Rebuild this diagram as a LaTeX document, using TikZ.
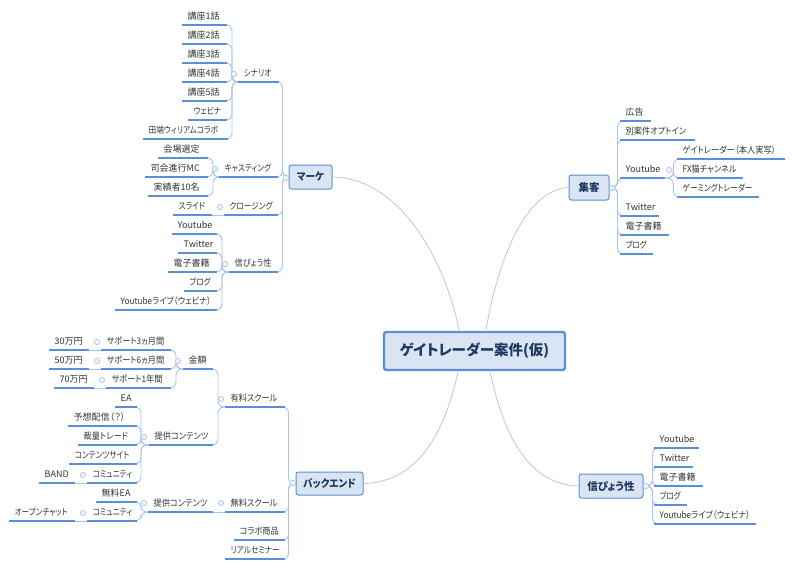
\documentclass[tikz,border=0pt]{standalone}
\usepackage{fontspec}
\setmainfont[RawFeature=+palt]{Noto Sans CJK JP}
\newcommand{\ka}[1]{{\addfontfeature{FakeStretch=0.85}#1}}
\newcommand{\mx}[1]{{\addfontfeature{FakeStretch=0.91}#1}}
\definecolor{linecol}{HTML}{5B8FD6}
\definecolor{conncol}{HTML}{A9C4EC}
\definecolor{boxfill}{HTML}{DAE5F3}
\definecolor{txtcol}{HTML}{333333}
\definecolor{boxtxt}{HTML}{1F3864}
\tikzset{
  leaf/.style={inner sep=0pt,anchor=south west,align=left,text height=9pt,text depth=5pt,font=\fontsize{9pt}{10pt}\selectfont,text=txtcol},
  under/.style={draw=linecol,line width=1.3pt},
  conn/.style={draw=conncol,line width=0.9pt,rounded corners=6pt},
  rootlink/.style={draw=conncol,line width=0.7pt},
  topicbox/.style={draw=linecol,line width=1pt,fill=boxfill,rounded corners=2.5pt,inner sep=0pt,font=\fontsize{10.5pt}{12pt}\bfseries\selectfont,text=boxtxt},
  rootbox/.style={topicbox,line width=2.4pt,font=\fontsize{14.5pt}{16pt}\bfseries\selectfont},
  toggle/.style={circle,draw=conncol,fill=boxfill!50,line width=0.6pt,minimum size=5.5pt,inner sep=0pt},
}
% name x1 x2 y text
\newcommand{\lf}[5]{\node[leaf,text width={(#3-#2)*1pt}] (#1) at (#2,#4) {\hspace*{5.5pt}\mbox{#5}};}
% parent child dx : branch to the left
\newcommand{\bl}[3]{\draw[conn] (#1.south west) -- ++(-#3,0) |- (#2.south east);}
\newcommand{\br}[3]{\draw[conn] (#1.south east) -- ++(#3,0) |- (#2.south west);}
\newcommand{\st}[2]{\draw[conn] (#1.south west) -- (#2.south east);}
\newcommand{\bx}[6]{\node[topicbox,minimum width={(#4-#2)*1pt},minimum height={(#5-#3)*1pt}] (#1) at ({(#2+#4)/2},{(#3+#5)/2}) {#6};}
% box-trunks
\newcommand{\bbl}[3]{\draw[conn] (#1.west) -- ++(-#3,0) |- (#2.south east);}
\newcommand{\bbr}[3]{\draw[conn] (#1.east) -- ++(#3,0) |- (#2.south west);}
\newcommand{\tg}[3]{\node[toggle] (#1) at (#2,#3) {};}
\newcommand{\ul}[1]{\foreach \c in {#1}{\draw[under] (\c.south west) -- (\c.south east);}}
\begin{document}
\begin{tikzpicture}[x=1pt,y=-1pt]
\useasboundingbox[fill=white] (0,0) rectangle (794,568);
% root and main topics
\node[rootbox,minimum width=181pt,minimum height=38pt] (root) at (474.5,351) {ゲイトレーダー案件(仮)};
\bx{marke}{289}{165}{332}{189}{\mx{マーケ}}
\bx{shukyaku}{569}{175}{609}{200}{集客}
\bx{backend}{296}{472}{363}{495}{\mx{バックエンド}}
\bx{shinpyo}{579}{474}{643}{498}{信ぴょう性}
\coordinate (rootNW) at (459,330);
\coordinate (rootNE) at (486,330);
\coordinate (rootSW) at (458,372);
\coordinate (rootSE) at (490,372);
\draw[rootlink] (marke.east) .. controls (400,178) and (445,260) .. (rootNW);
\draw[rootlink] (shukyaku.west) .. controls (525,190) and (498,260) .. (rootNE);
\draw[rootlink] (backend.east) .. controls (420,482) and (445,430) .. (rootSW);
\draw[rootlink] (shinpyo.west) .. controls (525,484) and (503,430) .. (rootSE);
% marke branch
\lf{sc}{238}{279}{82}{\ka{シナリオ}}
\lf{ko1}{182}{227}{25}{講座1話}
\lf{ko2}{182}{227}{44}{講座2話}
\lf{ko3}{182}{227}{63}{講座3話}
\lf{ko4}{182}{227}{82}{講座4話}
\lf{ko5}{182}{227}{101}{講座5話}
\lf{web}{188}{227}{120}{\ka{ウェビナ}}
\lf{tab}{143}{228}{139}{\ka{田端ウィリアムコラボ}}
\foreach \c in {ko1,ko2,ko3,ko4,ko5,web,tab}{\bl{sc}{\c}{6}}
\lf{cast}{219}{278}{177}{\ka{キャスティング}}
\lf{kaijo}{158}{208}{158}{会場選定}
\lf{shikai}{145}{208}{177}{司会進行MC}
\lf{jisseki}{148}{208}{196}{実績者10名}
\foreach \c in {kaijo,shikai,jisseki}{\bl{cast}{\c}{6}}
\lf{clo}{224}{278}{215}{\ka{クロージング}}
\lf{slide}{173}{212}{215}{\ka{スライド}}
\st{clo}{slide}
\lf{shin}{229}{278}{272}{\mx{信ぴょう性}}
\lf{myt}{172}{217}{234}{Youtube}
\lf{mtw}{178}{217}{253}{Twitter}
\lf{mde}{168}{217}{272}{電子書籍}
\lf{mbl}{184}{217}{291}{\ka{ブログ}}
\lf{mli}{115}{217}{310}{\mx{Youtubeライブ（ウェビナ）}}
\foreach \c in {myt,mtw,mde,mbl,mli}{\bl{shin}{\c}{7}}
\foreach \c in {sc,cast,clo,shin}{\bbl{marke}{\c}{6}}
% backend branch
\lf{yuryo}{225}{285}{407}{\mx{有料スクール}}
\lf{kingaku}{183}{213}{369}{金額}
\lf{s3}{101}{171}{350}{\mx{サポート3ヵ月間}}
\lf{s6}{101}{171}{369}{\mx{サポート6ヵ月間}}
\lf{s1}{106}{171}{388}{\mx{サポート1年間}}
\foreach \c in {s3,s6,s1}{\bl{kingaku}{\c}{7}}
\lf{m30}{49}{89}{350}{30万円}
\lf{m50}{49}{89}{369}{50万円}
\lf{m70}{54}{94}{388}{70万円}
\st{s3}{m30}
\st{s6}{m50}
\st{s1}{m70}
\lf{teikyo}{149}{213}{445}{\mx{提供コンテンツ}}
\lf{ea}{115}{137}{407}{EA}
\lf{yoso}{68}{137}{426}{予想配信（？）}
\lf{sairyo}{78}{137}{445}{\mx{裁量トレード}}
\lf{csite}{69}{137}{464}{\ka{コンテンツサイト}}
\lf{comm}{87}{137}{483}{\ka{コミュニティ}}
\foreach \c in {ea,yoso,sairyo,csite,comm}{\bl{teikyo}{\c}{8}}
\lf{band}{39}{75}{483}{BAND}
\st{comm}{band}
\foreach \c in {kingaku,teikyo}{\bl{yuryo}{\c}{7}}
\lf{muryo}{225}{285}{512}{\mx{無料スクール}}
\lf{teikyob}{148}{213}{512}{\mx{提供コンテンツ}}
\st{muryo}{teikyob}
\lf{mea}{96}{137}{502}{無料EA}
\lf{commb}{87}{137}{521}{\ka{コミュニティ}}
\foreach \c in {mea,commb}{\bl{teikyob}{\c}{7}}
\lf{open}{9}{75}{521}{\ka{オープンチャット}}
\st{commb}{open}
\lf{collab}{234}{285}{540}{\mx{コラボ商品}}
\lf{real}{225}{285}{559}{\ka{リアルセミナー}}
\foreach \c in {yuryo,muryo,collab,real}{\bbl{backend}{\c}{7}}
% shukyaku branch
\lf{kokoku}{620}{651}{121}{広告}
\lf{betsu}{620}{695}{140}{\mx{別案件オプトイン}}
\lf{syt}{620}{665}{178}{Youtube}
\lf{stw}{620}{659}{216}{Twitter}
\lf{sde}{620}{669}{235}{電子書籍}
\lf{sbl}{620}{653}{254}{\ka{ブログ}}
\foreach \c in {kokoku,betsu,syt,stw,sde,sbl}{\bbr{shukyaku}{\c}{8}}
\lf{gate}{677}{785}{159}{\mx{ゲイトレーダー（本人実写）}}
\lf{fx}{677}{743}{178}{\mx{FX猫チャンネル}}
\lf{gaming}{677}{759}{197}{\ka{ゲーミングトレーダー}}
\foreach \c in {gate,fx,gaming}{\br{syt}{\c}{8}}
% shinpyo branch
\lf{tyt}{654}{699}{448}{Youtube}
\lf{ttw}{654}{693}{467}{Twitter}
\lf{tde}{654}{703}{486}{電子書籍}
\lf{tbl}{654}{687}{505}{\ka{ブログ}}
\lf{tli}{654}{756}{524}{\mx{Youtubeライブ（ウェビナ）}}
\foreach \c in {tyt,ttw,tde,tbl,tli}{\bbr{shinpyo}{\c}{9}}
% underlines above the connectors
\ul{sc,ko1,ko2,ko3,ko4,ko5,web,tab,cast,kaijo,shikai,jisseki,clo,slide,shin,myt,mtw,mde,mbl,mli}
\ul{yuryo,kingaku,s3,s6,s1,m30,m50,m70,teikyo,ea,yoso,sairyo,csite,comm,band,muryo,teikyob,mea,commb,open,collab,real}
\ul{kokoku,betsu,syt,stw,sde,sbl,gate,fx,gaming,tyt,ttw,tde,tbl,tli}
% toggles
\tg{t1}{234}{74}\tg{t2}{286}{178}\tg{t3}{215}{169}\tg{t4}{220}{207}\tg{t5}{225}{264}
\tg{t6}{97}{342}\tg{t7}{97}{361}\tg{t8}{102}{380}\tg{t9}{178}{361}\tg{t10}{221}{399}
\tg{t11}{144}{437}\tg{t12}{83}{475}\tg{t13}{144}{503}\tg{t14}{83}{513}\tg{t15}{221}{503}\tg{t16}{293}{483}
\tg{t17}{612}{188}\tg{t18}{669}{170}\tg{t19}{646}{486}
\end{tikzpicture}
\end{document}
